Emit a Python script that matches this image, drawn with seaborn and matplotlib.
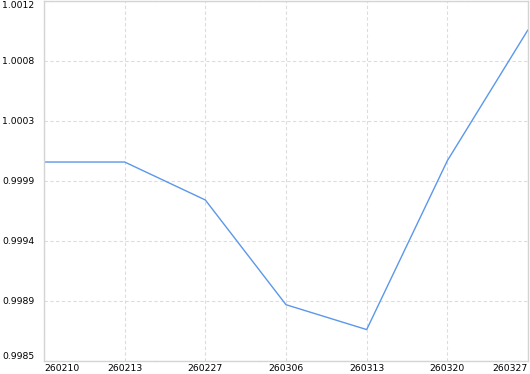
import matplotlib
matplotlib.use('Agg')
import matplotlib.pyplot as plt
import seaborn as sns
import numpy as np
import pandas as pd

dates = ['260210', '260213', '260227', '260306', '260313', '260320', '260327']
values = [1.00000, 1.00000, 0.99971, 0.99891, 0.99872, 1.00001, 1.00101]
y_min, y_max = 0.99848, 1.00123

sns.set_style('white')
plt.rcParams['font.family'] = ['DejaVu Sans']

fig = plt.figure(figsize=(5.3, 3.74), dpi=100)
ax = fig.add_axes([44 / 530, 13 / 374, 484 / 530, 360 / 374])

df = pd.DataFrame({'date': dates, 'value': values})
sns.lineplot(data=df, x='date', y='value', ax=ax, color='#5b97ea', linewidth=1)

ax.set_xlim(0, len(dates) - 1)
ax.set_ylim(y_min, y_max)
yt = np.linspace(y_min, y_max, 7)
ax.set_yticks(yt)
ax.set_yticklabels([f'{v:.4f}' for v in yt])
ax.set_xticks(range(len(dates)))
ax.set_xticklabels(dates)
ax.set_xlabel('')
ax.set_ylabel('')

ax.grid(True, linestyle=(0, (3, 2.2)), color='#dcdcdc', linewidth=0.8)
ax.set_axisbelow(True)
for s in ax.spines.values():
    s.set_visible(True)
    s.set_color('#d4d4d4')
    s.set_linewidth(1)

ax.tick_params(axis='both', length=0, labelsize=6.7, colors='black')
ax.tick_params(axis='y', pad=7)
ax.tick_params(axis='x', pad=2)

xl = ax.get_xticklabels()
xl[0].set_ha('left')
xl[-1].set_ha('right')
yl = ax.get_yticklabels()
yl[0].set_va('bottom')
yl[-1].set_va('top')

fig.savefig('out.png', dpi=100)
